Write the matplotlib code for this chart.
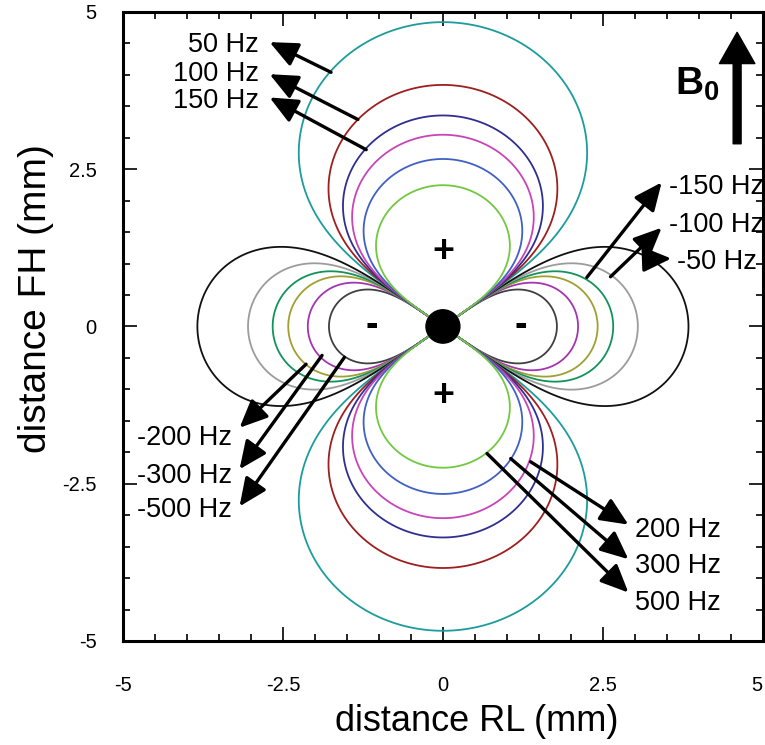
"""
Dipole field offset map around a point susceptibility source (RL-FH plane).
"""

import numpy as np
import matplotlib
matplotlib.use("Agg")
import matplotlib.pyplot as plt
from matplotlib.patches import Circle, FancyArrowPatch

plt.rcParams["font.family"] = ["Liberation Sans", "DejaVu Sans"]
plt.rcParams["mathtext.fontset"] = "custom"
plt.rcParams["mathtext.bf"] = "Liberation Sans:bold"
plt.rcParams["mathtext.rm"] = "Liberation Sans"

# =========================================================
# DATA
# =========================================================

# dipole strength in Hz*mm^3, estimated from where the contours cross the axes
DIPOLE_K = 2830

# contour levels (Hz) and their colours, increasing order
levels = [-500, -300, -200, -150, -100, -50, 50, 100, 150, 200, 300, 500]
level_colors = ["#404040", "#a435b0", "#a0a032", "#12935c", "#9c9c9c", "#111111",
                "#1c9c9c", "#9e1f1f", "#2f2f90", "#c845b8", "#4060c4", "#72c841"]

# label text, text anchor, arrow head, arrow tail (data coords, mm)
label_texts = ["50 Hz", "100 Hz", "150 Hz",
               "-150 Hz", "-100 Hz", "-50 Hz",
               "-200 Hz", "-300 Hz", "-500 Hz",
               "200 Hz", "300 Hz", "500 Hz"]
label_x = [-2.88, -2.88, -2.88, 3.53, 3.53, 3.66, -3.30, -3.30, -3.30, 3.00, 3.00, 3.00]
label_y = [4.47, 4.02, 3.59, 2.21, 1.62, 1.02, -1.77, -2.37, -2.92, -3.23, -3.81, -4.39]
label_ha = ["right"] * 3 + ["left"] * 3 + ["right"] * 3 + ["left"] * 3
head_x = [-2.71, -2.71, -2.71, 3.42, 3.42, 3.57, -3.18, -3.18, -3.18, 2.90, 2.90, 2.90]
head_y = [4.52, 4.01, 3.64, 2.29, 1.57, 1.08, -1.61, -2.27, -2.86, -3.15, -3.70, -4.23]
tail_x = [-1.75, -1.33, -1.20, 2.25, 2.62, 3.29, -2.14, -1.89, -1.54, 1.37, 1.06, 0.69]
tail_y = [4.04, 3.29, 2.81, 0.78, 0.79, 1.07, -0.60, -0.46, -0.49, -2.15, -2.10, -2.02]

# sign markers inside the lobes
sign_texts = ["+", "+", "-", "-"]
sign_x = [0.0, 0.0, -1.11, 1.22]
sign_y = [1.19, -1.10, 0.0, 0.0]

tick_vals = [-5, -2.5, 0, 2.5, 5]
tick_labels = ["-5", "-2.5", "0", "2.5", "5"]

# =========================================================
# FIELD GRID
# =========================================================

grid = np.linspace(-5.5, 5.5, 1601)
X, Y = np.meshgrid(grid, grid)
R = np.hypot(X, Y)
R[R < 1e-6] = 1e-6
field = DIPOLE_K * (2 * Y**2 - X**2) / R**5
field = np.ma.masked_where(R < 0.12, field)

# =========================================================
# PLOT
# =========================================================

fig = plt.figure(figsize=(7.65, 7.45), dpi=100)
ax = fig.add_axes([0.161, 0.1396, 0.836, 0.8444])

ax.contour(X, Y, field, levels=levels, colors=level_colors, linewidths=1.3)

ax.add_patch(Circle((0, 0), 0.265, color="black", zorder=5))

for s, sx, sy in zip(sign_texts, sign_x, sign_y):
    ax.text(sx, sy, s, fontsize=27, fontweight="bold", ha="center", va="center")

for txt, lx, ly, ha, hx, hy, tx, ty in zip(label_texts, label_x, label_y, label_ha,
                                           head_x, head_y, tail_x, tail_y):
    ax.annotate("", xy=(hx, hy), xytext=(tx, ty),
                arrowprops=dict(arrowstyle="-|>,head_length=0.85,head_width=0.38",
                                color="black", lw=2.4, mutation_scale=20,
                                shrinkA=0, shrinkB=0))
    ax.text(lx, ly, txt, fontsize=19.5, ha=ha, va="center")

# B0 arrow
b0 = FancyArrowPatch((4.60, 2.86), (4.60, 4.72),
                     arrowstyle="simple,head_length=0.75,head_width=0.85,tail_width=0.19",
                     mutation_scale=30, color="black")
ax.add_patch(b0)
ax.text(3.98, 3.85, r"$\mathbf{B_0}$", fontsize=28, ha="center", va="center")

# axes styling
ax.set_xlim(-5, 5)
ax.set_ylim(-5, 5)
ax.set_xticks(tick_vals)
ax.set_yticks(tick_vals)
ax.set_xticklabels(tick_labels)
ax.set_yticklabels(tick_labels)
ax.get_xticklabels()[-1].set_horizontalalignment("right")
ax.set_xticks(np.arange(-5, 5.01, 0.5), minor=True)
ax.set_yticks(np.arange(-5, 5.01, 0.5), minor=True)
ax.tick_params(which="both", direction="in", top=True, right=True, width=1.2)
ax.tick_params(which="major", length=10)
ax.tick_params(which="minor", length=5)
ax.tick_params(axis="x", which="major", labelsize=14.5, pad=25)
ax.tick_params(axis="y", which="major", labelsize=14.5, pad=19)
for side in ["left", "bottom", "top", "right"]:
    ax.spines[side].set_linewidth(2.2)

ax.set_xlabel("distance RL (mm)", fontsize=26)
ax.xaxis.set_label_coords(0.553, -0.10)
ax.set_ylabel("distance FH (mm)", fontsize=28)
ax.yaxis.set_label_coords(-0.108, 0.544)

fig.savefig("out.png", dpi=100)
